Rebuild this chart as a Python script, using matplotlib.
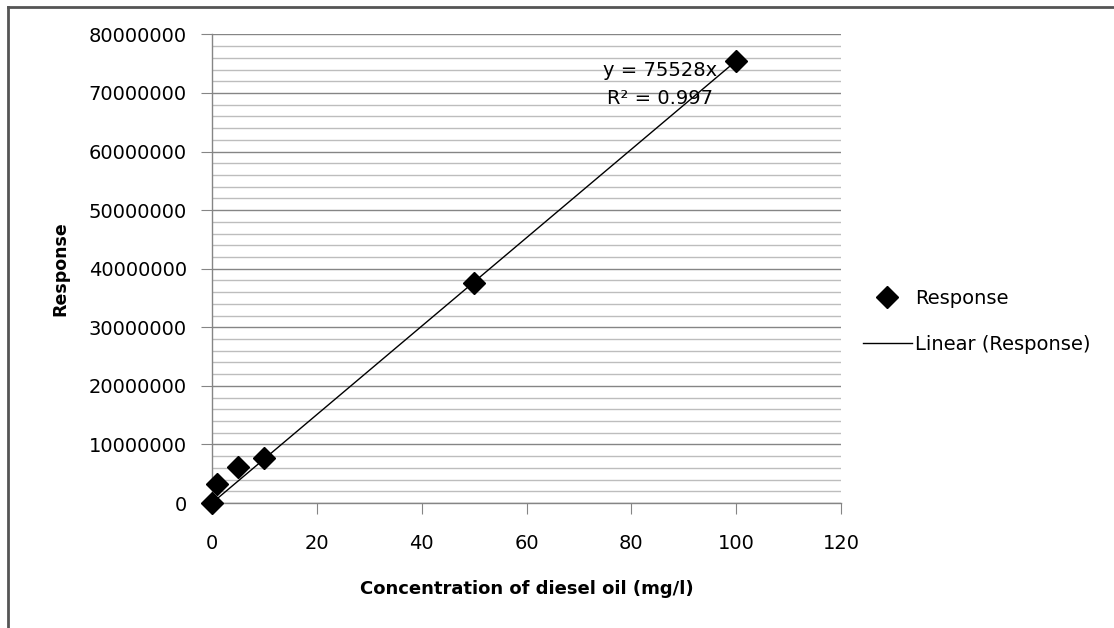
import matplotlib.pyplot as plt
import numpy as np
from matplotlib.lines import Line2D

# Calibration data: diesel oil concentration vs detector response
concentration = [0, 1, 5, 10, 50, 100]
response = [0, 3300000, 6200000, 7700000, 37600000, 75400000]
equation_text = "y = 75528x"
r2_text = "R\u00b2 = 0.997"

x = np.array(concentration, dtype=float)
y = np.array(response, dtype=float)

# linear trendline forced through the origin
slope = np.sum(x * y) / np.sum(x * x)
x_fit = np.array([0, x.max()])
y_fit = slope * x_fit

plt.rcParams['font.family'] = 'DejaVu Sans'

fig = plt.figure(figsize=(11.14, 6.28), dpi=100)
ax = fig.add_axes([0.1903, 0.199, 0.5647, 0.7462])

ax.plot(x_fit, y_fit, color='black', linewidth=1.0, label='Linear (Response)', zorder=3)
ax.plot(x, y, linestyle='none', marker='D', markersize=11, color='black',
        label='Response', zorder=4, clip_on=False)

ax.set_xlim(0, 120)
ax.set_ylim(0, 80000000)
ax.set_xticks(np.arange(0, 121, 20))
ax.set_yticks(np.arange(0, 80000001, 10000000))
ax.set_yticks(np.arange(0, 80000001, 2000000), minor=True)
ax.set_yticklabels([f"{int(v)}" for v in np.arange(0, 80000001, 10000000)])

ax.grid(which='major', axis='y', color='#858585', linewidth=1.0)
ax.grid(which='minor', axis='y', color='#bdbdbd', linewidth=1.0)
ax.set_axisbelow(True)

for side in ['top', 'right']:
    ax.spines[side].set_visible(False)
for side in ['left', 'bottom']:
    ax.spines[side].set_color('#858585')
    ax.spines[side].set_linewidth(1.0)

ax.tick_params(axis='both', which='major', direction='out', length=8,
               color='#858585', labelsize=14, labelcolor='black')
ax.tick_params(axis='y', which='minor', length=0)
ax.tick_params(axis='x', pad=14)
ax.tick_params(axis='y', pad=10)

ax.set_xlabel('Concentration of diesel oil (mg/l)', fontsize=13,
              fontweight='bold', labelpad=20)
ax.set_ylabel('Response', fontsize=12.5, fontweight='bold', labelpad=14)

ax.text(0.712, 0.922, equation_text, transform=ax.transAxes, fontsize=14,
        ha='center', va='center')
ax.text(0.712, 0.864, r2_text, transform=ax.transAxes, fontsize=14,
        ha='center', va='center')

handles, labels = ax.get_legend_handles_labels()
order = [1, 0]
ax.legend([handles[i] for i in order], [labels[i] for i in order],
          loc='center left', bbox_to_anchor=(1.007, 0.388), frameon=False,
          fontsize=14, handlelength=2.5, handletextpad=0.2, labelspacing=1.37)

# outer chart border (top and left edges)
fig.add_artist(Line2D([8 / 1114, 1.0], [1 - 7 / 628, 1 - 7 / 628],
                      transform=fig.transFigure, color='#555555', linewidth=2))
fig.add_artist(Line2D([8 / 1114, 8 / 1114], [0.0, 1 - 7 / 628],
                      transform=fig.transFigure, color='#555555', linewidth=2))

fig.savefig('out.png', dpi=100)
